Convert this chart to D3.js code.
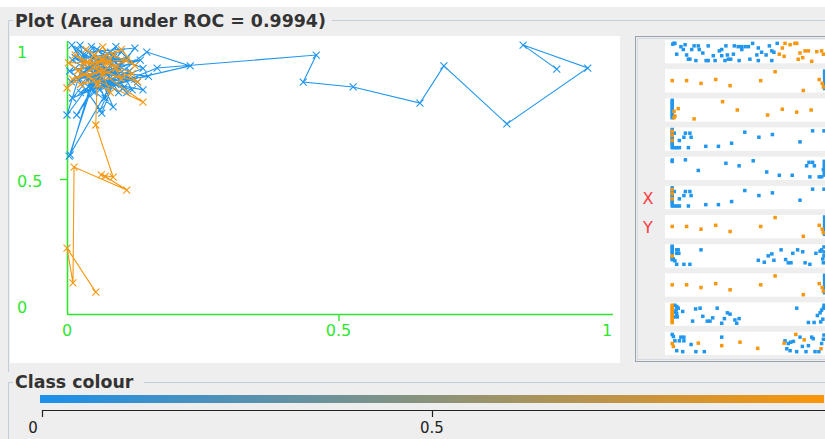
<!DOCTYPE html>
<html>
<head>
<meta charset="utf-8">
<script src="https://cdn.jsdelivr.net/npm/d3@7"></script>
<style>
  html, body { margin: 0; padding: 0; background: #eeeeee; overflow: hidden; }
  svg { display: block; }
</style>
</head>
<body>
<svg id="chart" width="825" height="439"></svg>
<script>
// ---- ROC threshold curve: (false positive rate, true positive rate) ----
const blueFpr = [0.006,0.045,0.000,0.030,0.009,0.060,0.018,0.075,0.024,0.050,0.110,0.005,0.085,0.040,0.125,0.070,0.147,0.227,0.035,0.064,0.100,0.020,0.061,0.090,0.004,0.055,0.130,0.015,0.095,0.045,0.140,0.010,0.080,0.120,0.030,0.065,0.105,
  0.020,0.110,0.050,0.135,0.008,0.090,0.070,0.030,0.115,0.045,0.100,0.010,0.075,0.150,0.040,0.085,0.060,0.125,0.025,0.095,0.055,0.140,0.035,0.080,0.015,0.105,0.065,0.120,0.050,0.090,
  0.166,0.459,0.435,0.527,0.650,0.694,0.810,0.959,0.840,0.902];
const blueTpr = [0.589,0.860,0.737,0.930,0.996,0.880,0.737,0.905,0.996,0.820,0.950,0.900,0.767,0.970,0.985,0.850,0.970,0.919,0.830,0.744,0.930,0.870,0.756,0.880,0.585,0.900,0.860,0.950,0.820,0.990,0.910,0.800,0.970,0.830,0.890,0.920,0.870,
  0.980,0.820,0.930,0.940,0.860,0.990,0.800,0.960,0.900,0.840,0.970,0.940,0.860,0.880,0.910,0.950,0.830,0.870,0.820,0.920,0.980,0.830,0.870,0.900,0.910,0.840,0.960,0.930,0.870,0.850,
  0.911,0.959,0.859,0.841,0.781,0.919,0.704,0.911,0.996,0.907];

const orangeFpr = [0.000,0.070,0.020,0.066,0.100,0.015,0.140,0.040,0.110,0.003,0.080,0.050,0.120,0.025,0.090,0.035,0.130,0.060,0.010,0.075,
  0.030,0.100,0.125,0.085,
  0.055,0.053,0.085,0.063,0.070,0.110,0.013,0.011,0.000,0.053];
const orangeTpr = [0.837,0.950,0.900,0.989,0.870,0.960,0.785,0.880,0.940,0.930,0.820,0.960,0.890,0.850,0.910,0.980,0.860,0.900,0.870,0.930,
  0.930,0.980,0.920,0.960,
  0.850,0.700,0.507,0.515,0.510,0.459,0.544,0.115,0.244,0.081];

const axisTicks = [0, 0.5, 1];
const colourTicks = [0, 0.5];
const titleText = "Plot (Area under ROC = 0.9994)";
const legendTitle = "Class colour";
const stripLabels = ["", "", "", "", "", "X", "Y", "", "", "", ""];

// ---- attribute strips: [value, jitter] per instance ----
const s1Blue = [[2.6,.11],[3.3,.07],[5.3,.24],[6.7,.14],[9.7,.2],[11.1,.2],[14.4,.2],[20.3,.2],[23.1,.2],[24.4,.24],[26.7,.24],[27.8,.24],[29.2,.07],[31.1,.31],[34.8,.2],[37.4,.07],[6.1,.39],[8.9,.39],[11.4,.39],[18.1,.46],[18.9,.39],[25.6,.39],[35.6,.46],[36.3,.53],[3.9,.63],[7.2,.67],[12.6,.57],[16.1,.71],[18.9,.71],[20.8,.67],[22.8,.63],[30.6,.67],[32.2,.53],[33.7,.67],[7.8,.89],[8.3,.89],[10.3,.96],[13.7,.96],[14.4,.96],[16.7,.96],[20,.96],[21.1,.89],[21.9,.89],[24.7,.96],[28.3,.89],[31.1,.96],[35.6,.96],[25.5,.24],[3,.07]];
const s1Orange = [[39.1,.31],[40,.07],[41.7,.14],[43.3,.07],[43.9,.07],[38.1,.63],[39.7,.74],[45,.57],[46.7,.46],[47.8,.46],[50.6,.5],[52.2,.46],[52.8,.63],[45.9,.81],[44.4,.89],[48.9,1]];
const s2Blue = [[53.2,0],[53.2,.15],[53.2,.3],[53.2,.45],[53.2,.6],[53.2,.75],[53.2,.9]];
const s2Orange = [[2.4,.49],[7.2,.49],[12,.63],[16.9,.43],[21.7,.75],[31.9,.49],[36.7,.03],[46.1,1],[51.4,.43],[52.4,.63],[52.8,.82]];
const s3Blue = [[2.4,0],[2.4,.1],[2.4,.2],[2.4,.3],[2.4,.4],[2.4,.5],[2.4,.6],[2.4,.7],[2.4,.8],[2.4,.9]];
const s3Orange = [[3,.57],[4.4,.43],[3.3,.81],[3,.9],[9.7,.96],[19.2,.07],[24.1,.5],[34.2,.76],[39.1,.46],[43.9,.61],[48.7,.5]];
const s4Blue = [[2.4,0],[2.4,.1],[2.4,.2],[2.4,.3],[2.4,.4],[2.4,.5],[2.4,.6],[2.4,.7],[2.4,.8],[2.4,.94],[3.2,.94],[4,.94],[4.8,.94],[3.1,.19],[6.8,.19],[8.3,.19],[6.3,.4],[8.7,.4],[4.8,.57],[7.8,.94],[13.6,.87],[17.8,.87],[22.2,.71],[26.6,.14],[31.3,.4],[35.8,.26],[45,.64],[49.2,.07],[53,.07]];
const s4Orange = [[2.4,.09],[2.4,.57],[2.4,.3]];
const s5Blue = [[2.4,.07],[2.4,.14],[6.8,.06],[11.1,.61],[20.3,.24],[24.7,.37],[29.4,.11],[33.9,.69],[38.1,.86],[42.4,.86],[47.2,.37],[48,.19],[49.2,.19],[49.8,.37],[48.3,.94],[51.4,.94],[52.2,.94],[52.8,.57],[53.1,.14],[53.1,.3],[53.1,.45],[53.1,.7],[53.1,.85]];
const s5Orange = [];
const s8Blue = [[2.4,0],[2.4,.1],[2.4,.2],[2.4,.3],[2.4,.4],[2.4,.6],[2.4,.7],[3.9,.19],[4.4,.19],[3.9,.37],[4.6,.37],[2.8,.66],[3.3,.76],[3.9,.94],[6.3,.94],[8.3,.94],[12,.19],[31.1,.73],[33.1,.83],[34.4,.5],[35.6,.4],[36.3,.73],[38.7,.19],[40.2,.69],[41.1,.86],[42,.86],[42.6,.37],[44.2,.19],[45.9,.29],[46.7,.86],[48.3,.94],[50.3,.37],[51.7,.26],[52.2,.19],[52.6,.66],[52.8,.86],[53,.04],[53,.3],[53,.5]];
const s8Orange = [[2.4,.51]];
const s10Blue = [[3.3,.04],[3.9,.11],[4.4,.19],[3.7,.29],[3,.4],[3.9,.47],[3.3,.64],[4.1,.64],[5.9,.36],[10.2,.23],[11.7,.19],[17.4,.19],[9.2,.86],[12.6,.61],[15.9,.69],[14.1,.86],[15,.86],[18.9,.97],[19.8,.73],[20.8,.43],[21.7,.5],[23.3,.8],[24.7,.73],[23.9,.97],[43.9,.19],[47.8,.93],[49.7,.93],[50.8,.57],[51.7,.43],[52.2,.29],[52.6,.76],[52.8,.19],[53,.04],[51.9,.9]];
const s10Orange = [[2.4,.04],[2.4,.14],[2.4,.24],[2.4,.34],[2.4,.44],[2.4,.54],[2.4,.64],[2.4,.74],[2.4,.84],[2.4,.94]];
const s11Blue = [[2.4,.04],[2.8,.15],[3.3,.37],[5.3,.18],[6.3,.18],[4.8,.37],[6.3,.37],[8.7,.56],[3.9,.88],[5.9,.93],[10.3,.93],[13.1,.93],[18.9,.18],[40,.37],[41.1,.51],[41.9,.44],[42.8,.4],[45,.18],[45.8,.66],[47.8,.62],[48.9,.18],[49.4,.26],[40.6,.78],[41.7,.88],[43.9,.93],[47,.93],[50,.93],[51.3,.93],[52.2,.51],[52.8,.29],[53,.07]];
const s11Orange = [[2.4,.51],[2.8,.66],[11.1,.49],[18.9,.62],[25,.44],[30.9,.76],[39.7,.49],[43.6,.04],[46.4,.32],[52,.78]];

const strips = [
  { blue: s1Blue, orange: s1Orange },
  { blue: s2Blue, orange: s2Orange },
  { blue: s3Blue, orange: s3Orange },
  { blue: s4Blue, orange: s4Orange },
  { blue: s5Blue, orange: s5Orange },
  { blue: s4Blue, orange: s4Orange },
  { blue: s2Blue, orange: s2Orange },
  { blue: s8Blue, orange: s8Orange },
  { blue: s2Blue, orange: s2Orange },
  { blue: s10Blue, orange: s10Orange },
  { blue: s11Blue, orange: s11Orange }
];

// ---- styling ----
const BLUE = "#2196ee";
const ORANGE = "#f7960f";
const GREEN = "#2ee62e";
const BORDER = "#c2cedb";
const FONT = "'DejaVu Sans', Verdana, sans-serif";

const svg = d3.select("#chart");

// background + top band
svg.append("rect").attr("width", 825).attr("height", 439).attr("fill", "#eeeeee");
svg.append("rect").attr("width", 825).attr("height", 7).attr("fill", "#ffffff");

// titled border for the plot
svg.append("path").attr("d", "M8.5,372 V20.5 H13 M332,20.5 H825")
  .attr("fill", "none").attr("stroke", BORDER);
svg.append("text").attr("x", 15).attr("y", 27)
  .attr("font-family", FONT).attr("font-weight", "bold").attr("font-size", 17.4)
  .attr("fill", "#333333").text(titleText);

// plot canvas
svg.append("rect").attr("x", 10).attr("y", 36).attr("width", 610).attr("height", 327).attr("fill", "#ffffff");

const x = d3.scaleLinear().domain([0, 1]).range([67, 610]);
const y = d3.scaleLinear().domain([0, 1]).range([314, 44]);

// axes
const axes = svg.append("g");
axes.append("line").attr("x1", x(0)).attr("x2", x(1) + 3).attr("y1", y(0) + 0.5).attr("y2", y(0) + 0.5)
  .attr("stroke", GREEN).attr("stroke-width", 1.6);
axes.append("line").attr("x1", x(0) + 0.5).attr("x2", x(0) + 0.5).attr("y1", y(1) - 3).attr("y2", y(0))
  .attr("stroke", GREEN).attr("stroke-width", 1.6);
axes.append("line").attr("x1", x(0.5) + 0.5).attr("x2", x(0.5) + 0.5).attr("y1", y(0)).attr("y2", y(0) + 7)
  .attr("stroke", GREEN).attr("stroke-width", 1.4);
axes.append("line").attr("x1", x(0) - 7).attr("x2", x(0)).attr("y1", y(0.5) + 0.5).attr("y2", y(0.5) + 0.5)
  .attr("stroke", GREEN).attr("stroke-width", 1.4);

axes.selectAll("text.xt").data(axisTicks).join("text").attr("class", "xt")
  .attr("x", d => x(d) - (d === 1 ? 3 : 0)).attr("y", y(0) + 22)
  .attr("text-anchor", "middle").attr("font-family", FONT).attr("font-size", 16)
  .attr("fill", GREEN).text(d => d3.format("~g")(d));
axes.selectAll("text.yt").data(axisTicks).join("text").attr("class", "yt")
  .attr("x", 17).attr("y", d => y(d) + (d === 1 ? 14 : d === 0 ? -1 : 8))
  .attr("text-anchor", "start").attr("font-family", FONT).attr("font-size", 16)
  .attr("fill", GREEN).text(d => d3.format("~g")(d));

// ROC paths
function drawSeries(fpr, tpr, colour) {
  const pts = d3.range(Math.min(fpr.length, tpr.length)).map(i => [fpr[i], tpr[i]]);
  const g = svg.append("g");
  g.append("path").datum(pts)
    .attr("d", d3.line().x(d => x(d[0])).y(d => y(d[1])))
    .attr("fill", "none").attr("stroke", colour).attr("stroke-width", 1.1);
  g.selectAll("path.m").data(pts).join("path").attr("class", "m")
    .attr("transform", d => `translate(${x(d[0])},${y(d[1])})`)
    .attr("d", "M-3.5,-3.5L3.5,3.5M-3.5,3.5L3.5,-3.5")
    .attr("stroke", colour).attr("stroke-width", 1.1).attr("fill", "none");
}
drawSeries(blueFpr, blueTpr, BLUE);
drawSeries(orangeFpr, orangeTpr, ORANGE);

// ---- attribute panel ----
svg.append("rect").attr("x", 635.5).attr("y", 36.5).attr("width", 300).attr("height", 325)
  .attr("fill", "#eeeeee").attr("stroke", "#9aa3ad").attr("stroke-width", 1);
svg.append("rect").attr("x", 637.5).attr("y", 38.5).attr("width", 300).attr("height", 321)
  .attr("fill", "none").attr("stroke", "#d4d9df").attr("stroke-width", 1);

const band = d3.scaleBand().domain(d3.range(strips.length)).range([40, 355]).paddingInner(0.2);
const sx = d3.scaleLinear().domain([0, 100]).range([665, 965]);

strips.forEach((s, i) => {
  const top = band(i), h = band.bandwidth();
  const sy = d3.scaleLinear().domain([0, 1]).range([top + 2, top + h - 2]);
  const g = svg.append("g");
  g.append("rect").attr("x", sx(0)).attr("y", top).attr("width", 300).attr("height", h).attr("fill", "#ffffff");
  g.selectAll("rect.b").data(s.blue).join("rect").attr("class", "b")
    .attr("x", d => sx(d[0]) - 1.75).attr("y", d => sy(d[1]) - 1.75)
    .attr("width", 3.5).attr("height", 3.5).attr("fill", BLUE);
  g.selectAll("rect.o").data(s.orange).join("rect").attr("class", "o")
    .attr("x", d => sx(d[0]) - 1.75).attr("y", d => sy(d[1]) - 1.75)
    .attr("width", 3.5).attr("height", 3.5).attr("fill", ORANGE);
  if (stripLabels[i]) {
    g.append("text").attr("x", 648).attr("y", top + h / 2 + 6)
      .attr("text-anchor", "middle").attr("font-family", FONT).attr("font-size", 16)
      .attr("fill", "#ff3b3b").text(stripLabels[i]);
  }
});

// ---- class colour legend ----
svg.append("path").attr("d", "M8.5,439 V382.5 H13 M144,382.5 H825")
  .attr("fill", "none").attr("stroke", BORDER);
svg.append("text").attr("x", 15).attr("y", 388)
  .attr("font-family", FONT).attr("font-weight", "bold").attr("font-size", 17.4)
  .attr("fill", "#333333").text(legendTitle);

const cs = d3.scaleLinear().domain([0, 1]).range([42, 822]);
const grad = svg.append("defs").append("linearGradient").attr("id", "classGrad")
  .attr("x1", "0%").attr("x2", "100%");
grad.append("stop").attr("offset", "0%").attr("stop-color", "#1a90ec");
grad.append("stop").attr("offset", "100%").attr("stop-color", "#fb9508");
svg.append("rect").attr("x", cs(0) - 2).attr("y", 395).attr("width", cs(1) - cs(0) + 4).attr("height", 8)
  .attr("fill", "url(#classGrad)");

svg.append("line").attr("x1", cs(0)).attr("x2", 825).attr("y1", 410.5).attr("y2", 410.5)
  .attr("stroke", "#222").attr("stroke-width", 1.2);
svg.selectAll("line.ct").data(colourTicks).join("line").attr("class", "ct")
  .attr("x1", d => cs(d) + 0.5).attr("x2", d => cs(d) + 0.5).attr("y1", 410).attr("y2", 417)
  .attr("stroke", "#222").attr("stroke-width", 1.2);
svg.selectAll("text.ct").data(colourTicks).join("text").attr("class", "ct")
  .attr("x", d => cs(d) - (d === 0 ? 9 : 0)).attr("y", 433)
  .attr("text-anchor", "middle").attr("font-family", FONT).attr("font-size", 15)
  .attr("fill", "#222").text(d => d3.format("~g")(d));
</script>
</body>
</html>
